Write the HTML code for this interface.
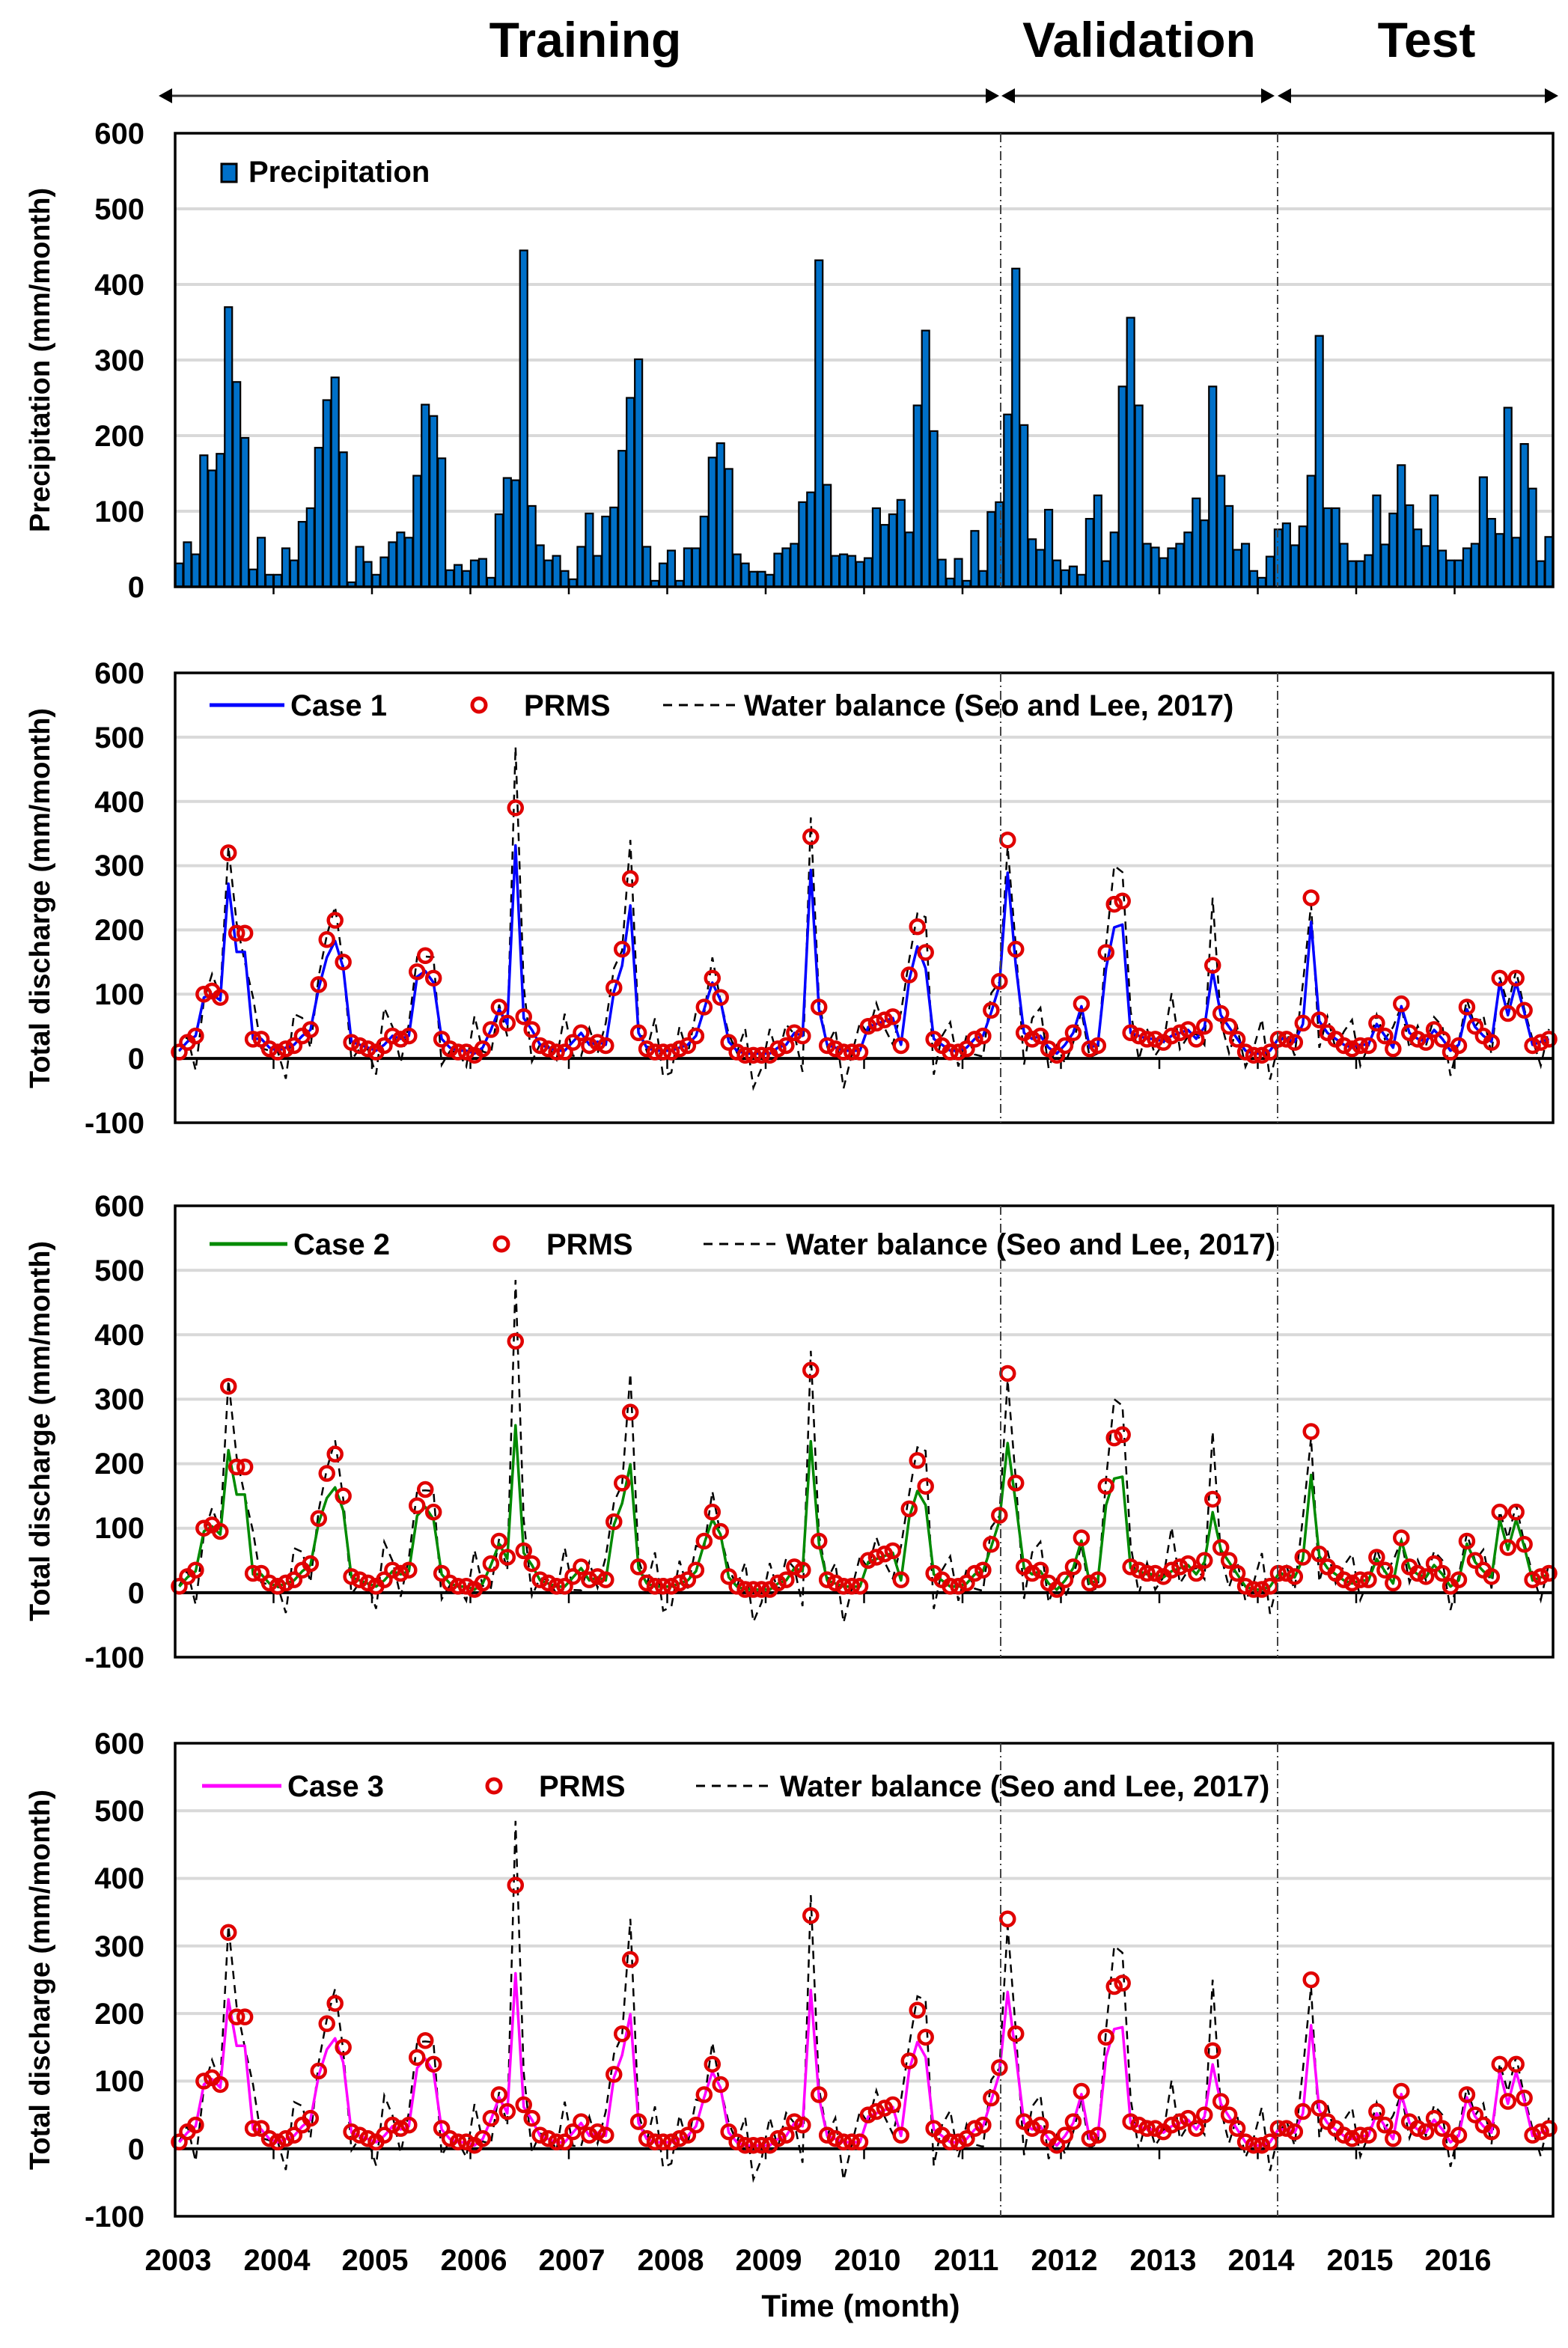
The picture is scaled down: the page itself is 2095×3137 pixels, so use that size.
<!DOCTYPE html>
<html><head><meta charset="utf-8"><style>
html,body{margin:0;padding:0;background:#fff}
svg{display:block}
text{font-family:"Liberation Sans",Arial,sans-serif;font-weight:bold;fill:#000}
</style></head><body>
<svg id="s" width="2095" height="3137" viewBox="0 0 2095 3137" xmlns="http://www.w3.org/2000/svg">
<g id="g"></g>
<text x="782" y="76" font-size="66" text-anchor="middle">Training</text>
<text x="1522" y="76" font-size="66" text-anchor="middle">Validation</text>
<text x="1906" y="76" font-size="66" text-anchor="middle">Test</text>
<g font-size="40" text-anchor="end">
<text x="193" y="192">600</text><text x="193" y="293">500</text><text x="193" y="394">400</text><text x="193" y="495">300</text><text x="193" y="596">200</text><text x="193" y="697">100</text><text x="193" y="798">0</text>
</g>
<text transform="translate(66,481) rotate(-90)" font-size="38" text-anchor="middle">Precipitation (mm/month)</text>
<text transform="translate(66,1200) rotate(-90)" font-size="38" text-anchor="middle">Total discharge (mm/month)</text>
<text transform="translate(66,1912) rotate(-90)" font-size="38" text-anchor="middle">Total discharge (mm/month)</text>
<text transform="translate(66,2645) rotate(-90)" font-size="38" text-anchor="middle">Total discharge (mm/month)</text>
<rect x="296" y="219" width="20" height="24" fill="#0070c8" stroke="#000" stroke-width="3"/>
<text x="332" y="243" font-size="40">Precipitation</text>
<g font-size="40">
<line x1="280" y1="942" x2="380" y2="942" stroke="#0000ff" stroke-width="5"/>
<text x="388" y="956">Case 1</text>
<circle cx="640" cy="942" r="9" fill="none" stroke="#e00000" stroke-width="5"/>
<text x="700" y="956">PRMS</text>
<line x1="886" y1="942" x2="982" y2="942" stroke="#000" stroke-width="3" stroke-dasharray="12,9"/>
<text x="994" y="956">Water balance (Seo and Lee, 2017)</text>

<line x1="280" y1="1662" x2="384" y2="1662" stroke="#008a00" stroke-width="5"/>
<text x="392" y="1676">Case 2</text>
<circle cx="670" cy="1662" r="9" fill="none" stroke="#e00000" stroke-width="5"/>
<text x="730" y="1676">PRMS</text>
<line x1="940" y1="1662" x2="1036" y2="1662" stroke="#000" stroke-width="3" stroke-dasharray="12,9"/>
<text x="1050" y="1676">Water balance (Seo and Lee, 2017)</text>

<line x1="270" y1="2386" x2="376" y2="2386" stroke="#ff00ff" stroke-width="5"/>
<text x="384" y="2400">Case 3</text>
<circle cx="660" cy="2386" r="9" fill="none" stroke="#e00000" stroke-width="5"/>
<text x="720" y="2400">PRMS</text>
<line x1="930" y1="2386" x2="1030" y2="2386" stroke="#000" stroke-width="3" stroke-dasharray="12,9"/>
<text x="1042" y="2400">Water balance (Seo and Lee, 2017)</text>
</g>
<g font-size="40" text-anchor="middle">
<text x="238" y="3033">2003</text><text x="370" y="3033">2004</text><text x="501" y="3033">2005</text><text x="633" y="3033">2006</text><text x="764" y="3033">2007</text><text x="896" y="3033">2008</text><text x="1027" y="3033">2009</text><text x="1159" y="3033">2010</text><text x="1291" y="3033">2011</text><text x="1422" y="3033">2012</text><text x="1554" y="3033">2013</text><text x="1685" y="3033">2014</text><text x="1817" y="3033">2015</text><text x="1948" y="3033">2016</text>
</g>
<text x="1150" y="3095" font-size="42" text-anchor="middle">Time (month)</text>
<g font-size="40" text-anchor="end">
<text x="193" y="913">600</text><text x="193" y="999">500</text><text x="193" y="1085">400</text><text x="193" y="1170">300</text><text x="193" y="1256">200</text><text x="193" y="1342">100</text><text x="193" y="1428">0</text><text x="193" y="1514">-100</text>
<text x="193" y="1625">600</text><text x="193" y="1711">500</text><text x="193" y="1797">400</text><text x="193" y="1883">300</text><text x="193" y="1969">200</text><text x="193" y="2055">100</text><text x="193" y="2142">0</text><text x="193" y="2228">-100</text>
<text x="193" y="2343">600</text><text x="193" y="2433">500</text><text x="193" y="2523">400</text><text x="193" y="2614">300</text><text x="193" y="2704">200</text><text x="193" y="2794">100</text><text x="193" y="2885">0</text><text x="193" y="2975">-100</text>
</g>
</svg>
<script>
var NS="http://www.w3.org/2000/svg",G=document.getElementById('g');
function el(t,a){var e=document.createElementNS(NS,t);for(var k in a)e.setAttribute(k,a[k]);G.appendChild(e);return e;}
var L=234,R=2075,W=(R-L)/168;
var P=[31,59,43,174,154,176,370,271,197,23,65,16,
16,51,35,86,104,184,247,277,178,6,53,33,
16,39,59,72,65,147,241,226,170,22,29,21,
35,37,12,96,144,141,445,107,55,35,41,21,
10,53,97,41,93,105,180,250,301,53,8,31,
48,8,51,51,93,171,190,156,43,31,20,20,
16,44,51,57,112,125,432,135,41,43,41,33,
38,104,82,96,115,72,240,339,206,36,11,37,
8,74,21,99,112,228,421,214,63,49,102,35,
22,27,16,90,121,34,72,265,356,240,57,52,
38,51,57,72,117,88,265,147,107,49,57,21,
12,40,76,84,55,80,147,332,104,104,57,34,
34,42,121,56,97,161,108,76,54,121,48,35,
35,51,57,145,90,70,237,65,189,130,34,66];
var Q=[10,25,35,100,105,95,320,195,195,30,30,15,
10,15,20,35,45,115,185,215,150,25,20,15,
10,20,35,30,35,135,160,125,30,15,10,10,
5,15,45,80,55,390,65,45,20,15,10,10,
25,40,20,25,20,110,170,280,40,15,10,10,
10,15,20,35,80,125,95,25,10,5,5,5,
5,15,20,40,35,345,80,20,15,10,10,10,
50,55,60,65,20,130,205,165,30,20,10,10,
15,30,35,75,120,340,170,40,30,35,15,5,
20,40,85,15,20,165,240,245,40,35,30,30,
25,35,40,45,30,50,145,70,50,30,10,5,
5,10,30,30,25,55,250,60,40,30,20,15,
20,20,55,35,15,85,40,30,25,45,30,10,
20,80,50,35,25,125,70,125,75,20,25,30];
function X(i){return L+(i+0.5)*W;}
var t1=178,b1=784;
for(var v=100;v<600;v+=100){var y=b1-v*(b1-t1)/600;el('line',{x1:L,x2:R,y1:y,y2:y,stroke:'#d9d9d9','stroke-width':4});}
for(var i=0;i<168;i++){var h=P[i]*(b1-t1)/600;el('rect',{x:L+i*W+0.5,y:b1-h,width:W-1,height:h,fill:'#0070c8',stroke:'#000','stroke-width':2.2});}
for(var yr=1;yr<14;yr++){var x=L+yr*12*W;el('line',{x1:x,x2:x,y1:b1,y2:b1+10,stroke:'#000','stroke-width':2.5});}
el('rect',{x:L,y:t1,width:R-L,height:b1-t1,fill:'none',stroke:'#000','stroke-width':3.5});
el('line',{x1:222,x2:1325,y1:128,y2:128,stroke:'#333','stroke-width':3});
el('line',{x1:1345,x2:1695,y1:128,y2:128,stroke:'#333','stroke-width':3});
el('line',{x1:1715,x2:2070,y1:128,y2:128,stroke:'#333','stroke-width':3});
function tri(x,d){el('polygon',{points:x+',128 '+(x-d*18)+',118 '+(x-d*18)+',138',fill:'#000'});}
tri(212,-1);tri(1335,1);tri(1338,-1);tri(1703,1);tri(1707,-1);tri(2082,1);
var panels=[[899,1500,'#0000ff',1],[1611,2214,'#008a00',2],[2329,2961,'#ff00ff',3]];
var OV={6:330,7:210,8:150,41:485,55:340,77:375,78:90,91:220,101:330,102:175,114:300,115:290,126:250,138:240};
function wb(i){if(OV[i]!==undefined)return OV[i];var q=Q[i];
 var n=q<70?(40*Math.sin(i*2.3)+25*Math.sin(i*5.1)):(q<200?20*Math.sin(i*3.7):0);
 if(i>=144)n*=0.6;
 return q*1.1+n;}
function cv(i,c){var q=Q[i];if(c==1){return q>150?q*0.85:q*0.92+3;}return q>100?100+(q-100)*0.55:q*0.95;}
panels.forEach(function(p){var t=p[0],b=p[1],k=(b-t)/700;function Y(v){return t+(600-v)*k;}
 for(var v=100;v<=500;v+=100){var y=Y(v);el('line',{x1:L,x2:R,y1:y,y2:y,stroke:'#d9d9d9','stroke-width':4});}
 var z=Y(0);el('line',{x1:L,x2:R,y1:z,y2:z,stroke:'#000','stroke-width':4});
 for(var yr=1;yr<14;yr++){var x=L+yr*12*W;el('line',{x1:x,x2:x,y1:z,y2:z+14,stroke:'#000','stroke-width':2.5});}
 var d='';for(var i=0;i<168;i++)d+=(i?'L':'M')+X(i).toFixed(1)+','+Y(wb(i)).toFixed(1);
 el('path',{d:d,fill:'none',stroke:'#000','stroke-width':2.5,'stroke-dasharray':'11,8'});
 d='';for(var i=0;i<168;i++)d+=(i?'L':'M')+X(i).toFixed(1)+','+Y(cv(i,p[3])).toFixed(1);
 el('path',{d:d,fill:'none',stroke:p[2],'stroke-width':3.5,'stroke-linejoin':'round'});
 for(var i=0;i<168;i++)el('circle',{cx:X(i),cy:Y(Q[i]),r:9,fill:'none',stroke:'#e00000','stroke-width':4.5});
 el('rect',{x:L,y:t,width:R-L,height:b-t,fill:'none',stroke:'#000','stroke-width':3.5});
});
[[178,784],[899,1500],[1611,2214],[2329,2961]].forEach(function(s){
 [1337,1707].forEach(function(x){el('line',{x1:x,x2:x,y1:s[0],y2:s[1],stroke:'#444','stroke-width':2,'stroke-dasharray':'12,5,2,5'});});});
</script>
</body></html>
